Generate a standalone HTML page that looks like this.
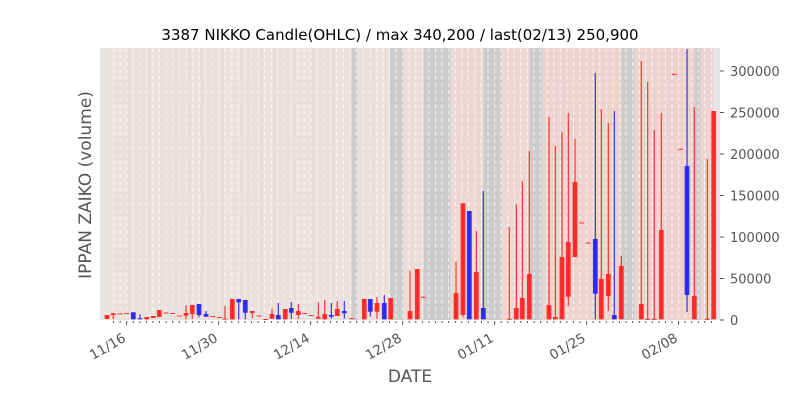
<!DOCTYPE html>
<html><head><meta charset="utf-8"><style>
body{margin:0;background:#fff;}
svg{display:block;font-family:"DejaVu Sans","Liberation Sans",sans-serif;}
</style></head><body>
<svg id="s" width="800" height="400" xmlns="http://www.w3.org/2000/svg">
<text x="400" y="40" font-size="15" text-anchor="middle" fill="#000">3387 NIKKO Candle(OHLC) / max 340,200 / last(02/13) 250,900</text>
<g id="bg"></g><g id="grid"></g><g id="c"></g><g id="ax"></g>
<text x="410" y="382" font-size="17" text-anchor="middle" fill="#555">DATE</text>
<text transform="translate(91,185) rotate(-90)" font-size="17" text-anchor="middle" fill="#555">IPPAN ZAIKO (volume)</text>
</svg>
<script>
var NS="http://www.w3.org/2000/svg";
function el(p,t,a){var e=document.createElementNS(NS,t);for(var k in a)e.setAttribute(k,a[k]);document.getElementById(p).appendChild(e);return e;}
var bands=[[100,107,"#e5e5e5"],[107,351.3,"#eae0dc"],[351.3,357.7,"#cccccc"],[357.7,390,"#eae0dc"],[390,403.7,"#cccccc"],[403.7,423.3,"#ecdcd8"],[423.3,450.7,"#cccccc"],[450.7,483.3,"#eed8d4"],[483.3,502,"#cccccc"],[502,529.3,"#eed8d4"],[529.3,542.7,"#cccccc"],[542.7,621.3,"#eed2ce"],[621.3,634.7,"#cccccc"],[634.7,694.3,"#eed2ce"],[694.3,700.7,"#cccccc"],[700.7,713.7,"#eed4d0"],[713.7,720,"#e5e5e5"]];
bands.forEach(function(b){el("bg","rect",{x:b[0],y:48,width:b[1]-b[0],height:272,fill:b[2]});});
for(var i=-2;i<=90;i++){var x=126.7+i*6.57;if(x<104||x>716)continue;
el("grid","line",{x1:x,x2:x,y1:48,y2:320,stroke:"#fff","stroke-width":1,"stroke-dasharray":"4,3",opacity:0.8});
el("ax","line",{x1:x,x2:x,y1:321,y2:(i%14==0?325:323),stroke:"#555","stroke-width":1});}
var labs=["11/16","11/30","12/14","12/28","01/11","01/25","02/08"];
labs.forEach(function(l,k){var x=126.7+k*14*6.57;var t=el("ax","text",{transform:"translate("+(x-5)+",332) rotate(-30)","font-size":"13.5","text-anchor":"end",fill:"#555",y:"10"});t.textContent=l;});
for(var k=0;k<=6;k++){var y=320-k*41.5;el("ax","line",{x1:720,x2:724,y1:y,y2:y,stroke:"#555"});var t=el("ax","text",{x:730,y:y+5,"font-size":"13",fill:"#555"});t.textContent=k*50000;}
var R="#ff2020",B="#2020ee";
var c=[[107,315,319,315,319,R],[113.3,313.3,315,313,319,R],[120,313.5,314.5,313.5,314.5,R],[126.7,313,314,313,314,R],[133.3,312.3,319.3,312.3,319.3,B],[140,318.3,319,314.3,319.3,B],[146.7,317,319.3,317,319.3,R],[153.3,316,318,316,318,R],[159.3,310,317,310,317,R],[166,312.5,313.5,312.5,313.5,R],[172.7,313,314,313,314,R],[179.3,315.5,316.3,315.5,316.3,R],[186,313,315.7,305.7,319.3,R],[192.3,305,314,305,319,R],[199,304,315,304,317.3,B],[206,314,316.7,311,317,B],[212.7,316,317,316,317,R],[219.3,317,317.8,317,317.8,R],[225,318.5,319.3,306,319.3,R],[232.3,299,319.3,299,319.3,R],[238.7,299,302.3,299,319.3,B],[245.3,300,312.7,300,319.3,B],[252.3,311,313,311,318.3,R],[259,315.5,316.3,315.5,316.3,R],[265.7,319,319.5,319,319.5,R],[272,314,318.7,308.7,318.7,R],[278.3,315,319.3,303,319.3,B],[285.3,309,319.3,309,319.3,R],[291.3,308,312.7,302,318.7,B],[298.3,311,315,304,318.7,R],[304.7,313,314,313,314,R],[311.3,315,316,315,316,R],[318.3,316.7,318.7,302,318.7,R],[324.7,314,319.3,300,319.3,R],[331.3,315,316.7,303,318.7,B],[337.3,309,316,301,316,R],[344.3,311,313.3,301,318.7,B],[351.7,318,318.8,318,318.8,R],[364.3,299,319.3,299,319.3,R],[370.3,299,311.7,299,316.7,B],[377,303,311.7,297,318.7,R],[384.3,303,319.3,295,319.3,B],[390.7,298,319.3,298,319.3,R],[410,311,319.3,271,319.3,R],[417.3,269,319.3,269,319.3,R],
[423.3,296.8,297.8,296.8,297.8,R],[456,293,319.3,261.7,319.3,R],[463,203.3,315,203.3,317.3,R],[469.3,211,319.3,211,319.3,B],[476.3,272,319.3,231,319.3,R],[483.3,308,319.3,191,319.3,B],[509.3,318.8,319.3,227,319.3,R],[516.3,308,319.3,204,319.3,R],[522.3,298,319.3,181,319.3,R],[529.3,274,319.3,151,319.3,R],[549,305,319.3,117,319.3,R],[555.3,317,319.3,146,319.3,R],[562,257,319.3,132,319.3,R],[568.3,242,296.7,113,306,R],[575,182,257,139,257,R],[581.7,222.5,223.5,222.5,223.5,R],[588.3,242.5,243.5,242.5,243.5,R],[595.3,239,293.7,73,319.3,B],[601.3,279,319.3,109,319.3,R],[608.3,274,296,123,311,R],[614.3,315,319.3,111,319.3,B],[621.3,266,319.3,256,319.3,R],[641.3,304,319.3,61,319.3,R],[647.7,318.8,319.3,82,319.3,R],[654.3,318.8,319.3,130,319.3,R],[661.3,230,319.3,113,319.3,R],[674.3,73.8,74.8,73.8,74.8,R],[680.7,148.8,149.8,148.8,149.8,R],[687,166,295,49,312,B],[694.3,296,319.3,107,319.3,R],[707.3,318.8,319.3,159,319.3,R],[713.7,111,319.3,111,319.3,R]];
c.forEach(function(d){el("c","line",{x1:d[0],x2:d[0],y1:d[3],y2:d[4],stroke:d[5],"stroke-width":1.2,opacity:0.9});
el("c","rect",{x:d[0]-2.4,y:d[1],width:4.8,height:Math.max(d[2]-d[1],1),fill:d[5],opacity:0.9});});
</script>
</body></html>
